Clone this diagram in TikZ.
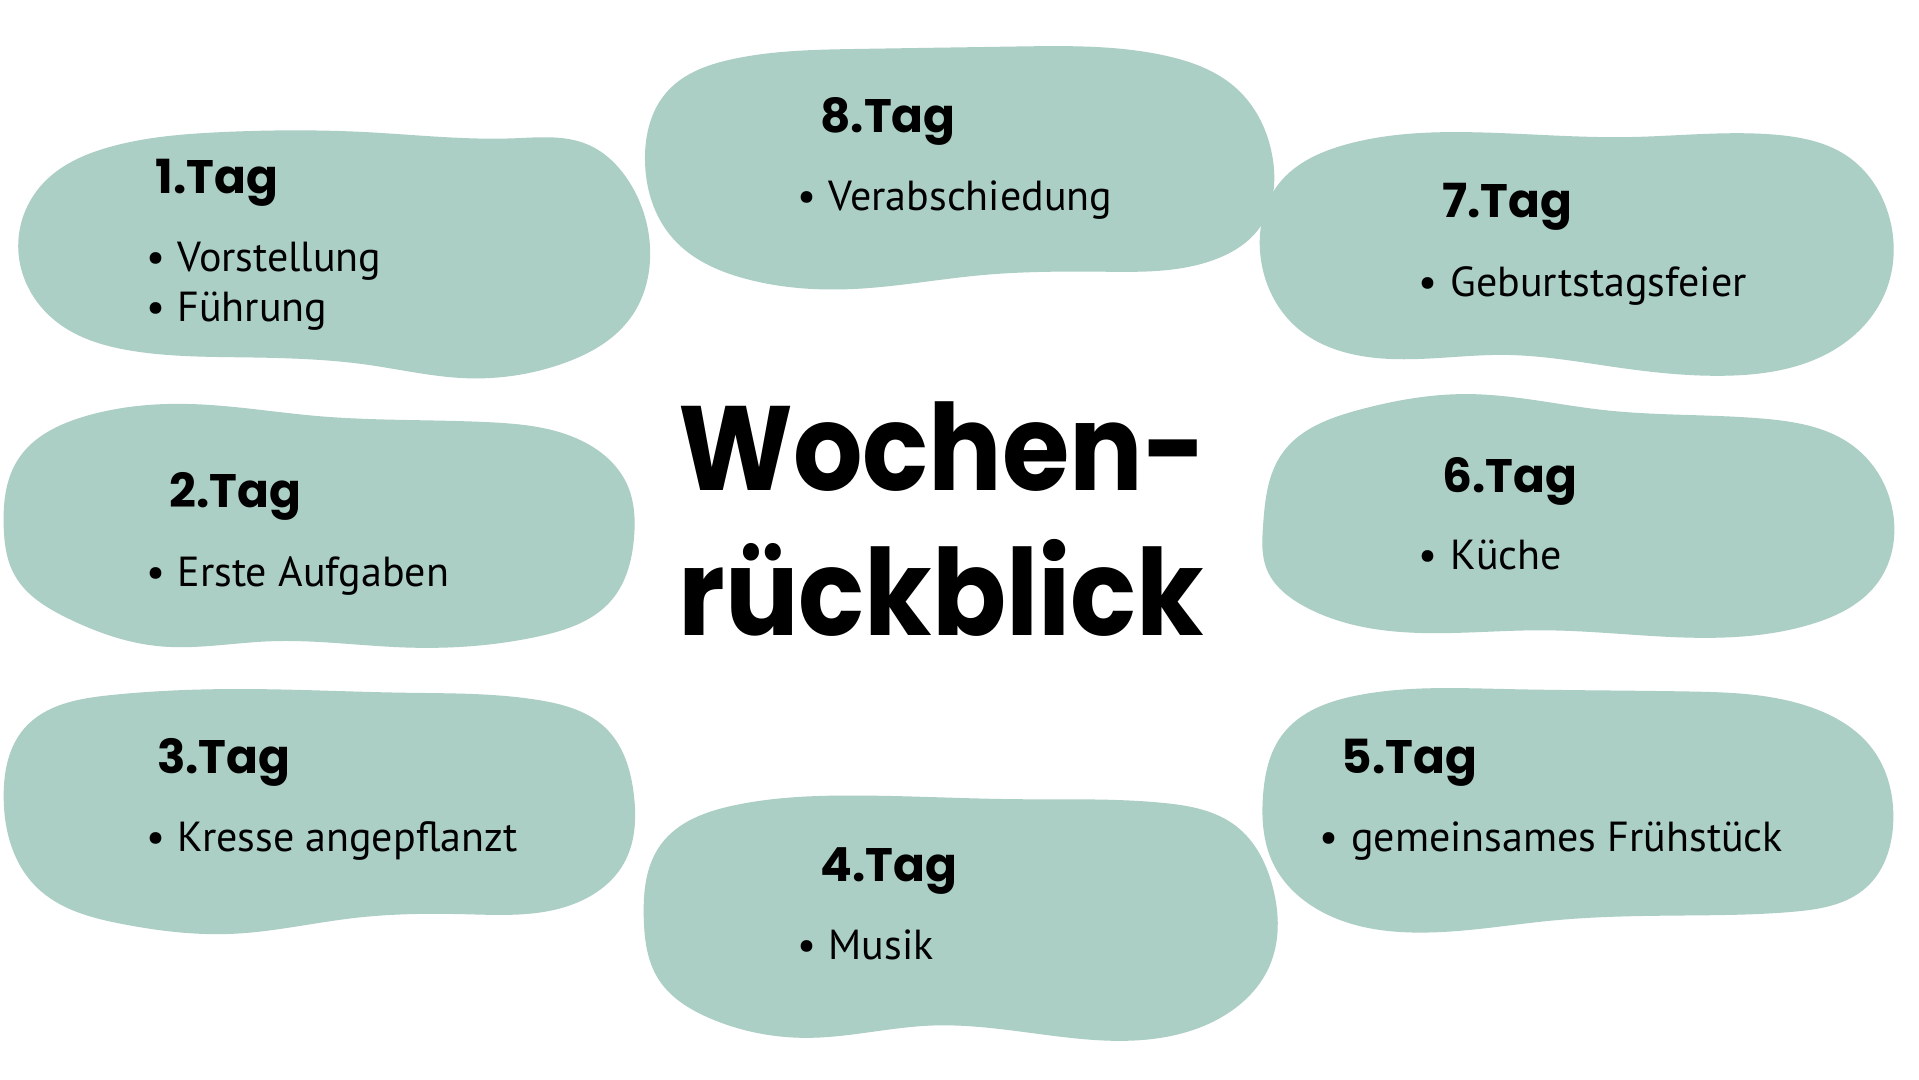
\documentclass[tikz,border=0pt]{standalone}
\usepackage{fontspec}
\usepackage{graphicx}
\setmainfont{PT Sans}
\newfontfamily\headfont{Poppins}
\usetikzlibrary{hobby}
\definecolor{blobc}{RGB}{171,206,197}
\tikzset{
  blob/.style={fill=blobc, draw=none, use Hobby shortcut, closed=true},
  head/.style={anchor=base west, inner sep=0pt, font=\headfont\bfseries\fontsize{23.5}{28}\selectfont},
  itm/.style={anchor=base west, inner sep=0pt, font=\fontsize{21}{25}\selectfont},
  ttl/.style={anchor=base west, inner sep=0pt, font=\headfont\bfseries\fontsize{60}{72}\selectfont}
}
\newcommand\bul[1]{\textbullet\hspace{0.3em}#1}
\newcommand\ttltext[1]{\scalebox{0.91}[1]{#1}}
\begin{document}
\begin{tikzpicture}[x=0.6119pt,y=-0.6119pt]
\useasboundingbox[fill=white] (0,0) rectangle (1568,882.4);
% blobs
\fill[blob] (15,205) .. (35,150) .. (90,120) .. (180,108) .. (300,108) .. (420,113) .. (480,118) .. (515,150) .. (531,200) .. (515,260) .. (460,297) .. (380,309) .. (300,298) .. (200,292) .. (110,287) .. (45,262);
\fill[blob] (527,130) .. (545,75) .. (600,48) .. (700,40) .. (830,38) .. (950,45) .. (1010,72) .. (1040,130) .. (1030,185) .. (990,213) .. (900,222) .. (800,225) .. (700,236) .. (610,228) .. (550,195);
\fill[blob] (1030,210) .. (1045,150) .. (1100,118) .. (1200,108) .. (1330,112) .. (1450,110) .. (1510,128) .. (1543,175) .. (1540,240) .. (1500,285) .. (1410,307) .. (1320,300) .. (1230,290) .. (1120,292) .. (1060,268);
\fill[blob] (3,430) .. (15,375) .. (70,340) .. (150,330) .. (260,340) .. (400,345) .. (475,360) .. (512,395) .. (518,440) .. (500,490) .. (440,520) .. (330,529) .. (220,524) .. (130,528) .. (55,505) .. (12,470);
\fill[blob] (1032,430) .. (1048,370) .. (1110,335) .. (1200,322) .. (1310,335) .. (1440,342) .. (1515,365) .. (1546,415) .. (1535,475) .. (1480,510) .. (1380,521) .. (1260,515) .. (1140,516) .. (1065,495) .. (1035,465);
\fill[blob] (3,650) .. (20,595) .. (90,568) .. (200,563) .. (330,566) .. (440,572) .. (495,595) .. (518,650) .. (510,705) .. (465,740) .. (380,747) .. (290,750) .. (190,763) .. (100,755) .. (30,725);
\fill[blob] (1032,650) .. (1048,600) .. (1110,568) .. (1230,563) .. (1380,565) .. (1480,578) .. (1530,612) .. (1547,670) .. (1525,725) .. (1465,745) .. (1380,748) .. (1270,752) .. (1160,762) .. (1080,745) .. (1040,705);
\fill[blob] (526,750) .. (540,690) .. (600,658) .. (700,650) .. (830,653) .. (950,656) .. (1010,675) .. (1040,725) .. (1037,790) .. (1000,830) .. (930,850) .. (850,845) .. (760,838) .. (660,848) .. (580,832) .. (538,800);
% title
\node[ttl] (t1) at (554,401) {\ttltext{Wochen-}};
\node[ttl] (t2) at (554,519) {\ttltext{rückblick}};
% day 1
\node[head] (h1) at (127,158) {1.Tag};
\node[itm] (i1a) at (119,222) {\bul{Vorstellung}};
\node[itm] (i1b) at (119,263) {\bul{Führung}};
% day 2
\node[head] (h2) at (138,415) {2.Tag};
\node[itm] (i2) at (119,479) {\bul{Erste Aufgaben}};
% day 3
\node[head] (h3) at (128,632) {3.Tag};
\node[itm] (i3) at (119,696) {\bul{Kresse angepflanzt}};
% day 4
\node[head] (h4) at (670,720) {4.Tag};
\node[itm] (i4) at (651,784) {\bul{Musik}};
% day 5
\node[head] (h5) at (1096,632) {5.Tag};
\node[itm] (i5) at (1078,696) {\bul{gemeinsames Frühstück}};
% day 6
\node[head] (h6) at (1178,402) {6.Tag};
\node[itm] (i6) at (1159,465) {\bul{Küche}};
% day 7
\node[head] (h7) at (1178,178) {7.Tag};
\node[itm] (i7) at (1159,242) {\bul{Geburtstagsfeier}};
% day 8
\node[head] (h8) at (670,108) {8.Tag};
\node[itm] (i8) at (651,172) {\bul{Verabschiedung}};
\end{tikzpicture}
\end{document}
